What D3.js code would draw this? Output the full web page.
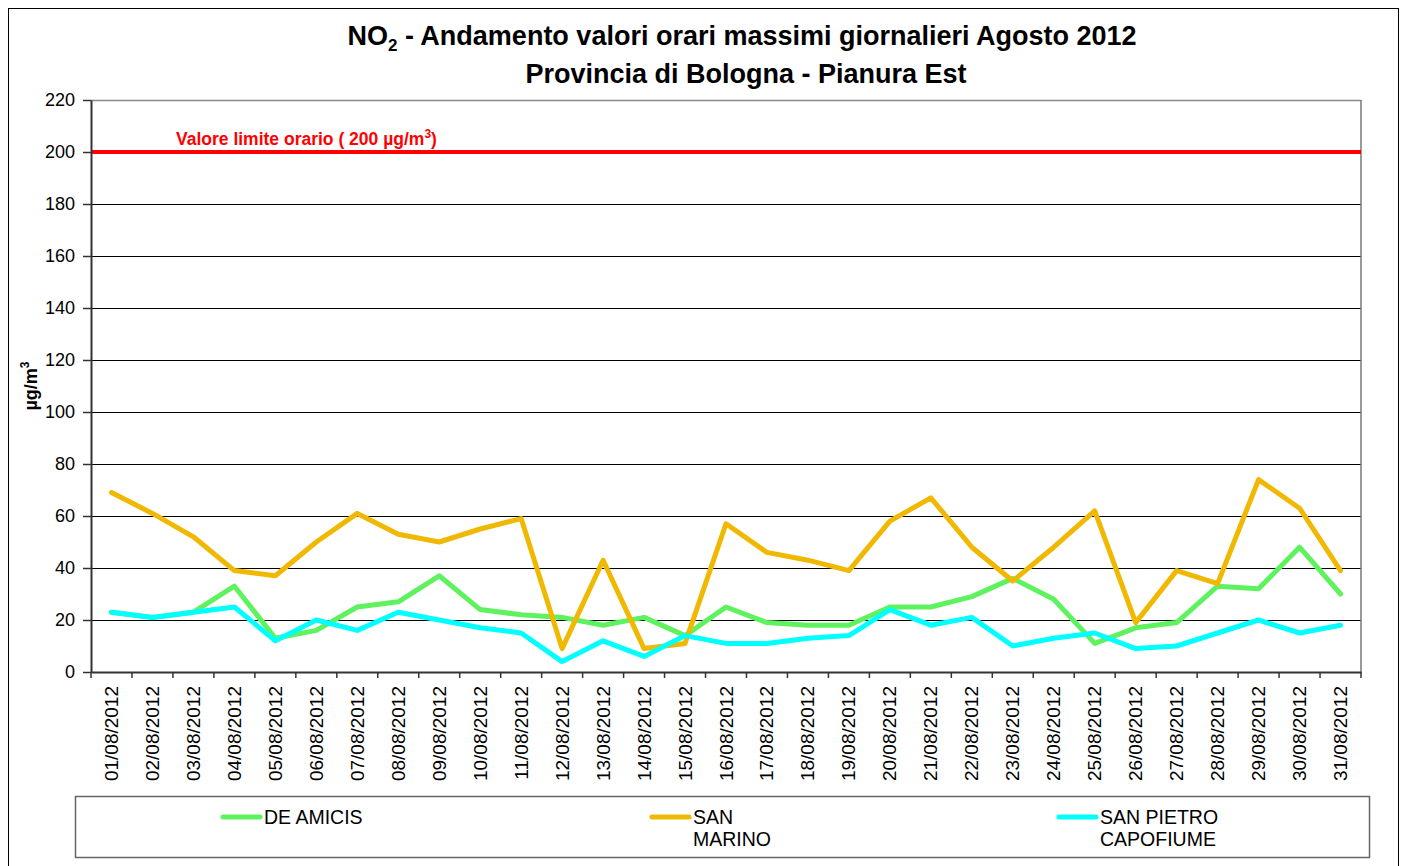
<!DOCTYPE html>
<html>
<head>
<meta charset="utf-8">
<script src="https://cdn.jsdelivr.net/npm/d3@7"></script>
<style>
  html, body { margin: 0; padding: 0; background: #fff; }
  svg { display: block; font-family: Arial, "Liberation Sans", sans-serif; }
</style>
</head>
<body>
<svg id="chart" width="1401" height="866"></svg>
<script>
const dates = ["01/08/2012","02/08/2012","03/08/2012","04/08/2012","05/08/2012","06/08/2012","07/08/2012","08/08/2012","09/08/2012","10/08/2012","11/08/2012","12/08/2012","13/08/2012","14/08/2012","15/08/2012","16/08/2012","17/08/2012","18/08/2012","19/08/2012","20/08/2012","21/08/2012","22/08/2012","23/08/2012","24/08/2012","25/08/2012","26/08/2012","27/08/2012","28/08/2012","29/08/2012","30/08/2012","31/08/2012"];
const deAmicis = [23,21,23,33,13,16,25,27,37,24,22,21,18,21,14,25,19,18,18,25,25,29,36,28,11,17,19,33,32,48,30];
const sanMarino = [69,61,52,39,37,50,61,53,50,55,59,9,43,9,11,57,46,43,39,58,67,48,35,48,62,19,39,34,74,63,39];
const sanPietro = [23,21,23,25,12,20,16,23,20,17,15,4,12,6,14,11,11,13,14,24,18,21,10,13,15,9,10,15,20,15,18];
const yTicks = [0,20,40,60,80,100,120,140,160,180,200,220];
const limitValue = 200;
const seriesNames = ["DE AMICIS", "SAN MARINO", "SAN PIETRO CAPOFIUME"];
const seriesColors = ["#5ef25e", "#f0b800", "#00ffff"];

const svg = d3.select("#chart");
const plot = { left: 91, right: 1361, top: 100, bottom: 672 };

// outer frame
svg.append("rect").attr("x", 8.5).attr("y", 8.5).attr("width", 1390).attr("height", 870)
  .attr("fill", "none").attr("stroke", "#000").attr("stroke-width", 1);

const x = d3.scaleBand().domain(dates).range([plot.left, plot.right]).padding(0);
const y = d3.scaleLinear().domain([0, 220]).range([plot.bottom, plot.top]);

// gridlines
svg.append("g").selectAll("line").data(yTicks.filter(t => t > 0 && t < 220 && t !== limitValue))
  .join("line")
  .attr("x1", plot.left).attr("x2", plot.right)
  .attr("y1", d => y(d) + 0.5).attr("y2", d => y(d) + 0.5)
  .attr("stroke", "#000").attr("stroke-width", 1);

// plot border top/right (grey)
svg.append("line").attr("x1", plot.left).attr("x2", plot.right)
  .attr("y1", y(220) + 0.5).attr("y2", y(220) + 0.5).attr("stroke", "#888").attr("stroke-width", 1.5);
svg.append("line").attr("x1", plot.right).attr("x2", plot.right)
  .attr("y1", plot.top).attr("y2", plot.bottom).attr("stroke", "#777").attr("stroke-width", 1.5);

// limit line
svg.append("line").attr("x1", plot.left).attr("x2", plot.right)
  .attr("y1", y(limitValue)).attr("y2", y(limitValue))
  .attr("stroke", "#ff0000").attr("stroke-width", 4);

const lim = svg.append("text").attr("x", 176).attr("y", 145)
  .attr("fill", "#ff0000").attr("font-weight", "bold").attr("font-size", 17.5);
lim.append("tspan").text("Valore limite orario ( 200 µg/m");
lim.append("tspan").attr("font-size", 12).attr("dy", -7).text("3");
lim.append("tspan").attr("dy", 7).text(")");

// y axis
const yAxis = d3.axisLeft(y).tickValues(yTicks).tickSize(8).tickSizeOuter(0);
const gy = svg.append("g").attr("transform", `translate(${plot.left},0)`).call(yAxis);
gy.select(".domain").attr("stroke", "#333").attr("stroke-width", 2);
gy.selectAll(".tick line").attr("stroke", "#333").attr("stroke-width", 1.5);
gy.selectAll(".tick text").attr("font-size", 18).attr("font-family", "Arial, 'Liberation Sans', sans-serif")
  .attr("fill", "#000").attr("x", -16);

// x axis
const xAxis = d3.axisBottom(x).tickSize(0).tickSizeOuter(0);
const gx = svg.append("g").attr("transform", `translate(0,${plot.bottom})`).call(xAxis);
gx.select(".domain").attr("stroke", "#333").attr("stroke-width", 2);
gx.selectAll(".tick text")
  .attr("font-size", 19).attr("font-family", "Arial, 'Liberation Sans', sans-serif").attr("fill", "#000")
  .attr("transform", "rotate(-90)")
  .attr("text-anchor", "end").attr("dominant-baseline", "central")
  .attr("x", -14).attr("y", 0).attr("dy", null);
// boundary ticks
const bounds = dates.map(d => x(d)).concat([plot.right]);
svg.append("g").selectAll("line").data(bounds).join("line")
  .attr("x1", d => d).attr("x2", d => d)
  .attr("y1", plot.bottom).attr("y2", plot.bottom + 6)
  .attr("stroke", "#333").attr("stroke-width", 1.5);

// series
const seriesData = [deAmicis, sanMarino, sanPietro];
const line = d3.line().x((d, i) => x(dates[i]) + x.bandwidth() / 2).y(d => y(d));
seriesData.forEach((s, k) => {
  svg.append("path").datum(s).attr("d", line)
    .attr("fill", "none").attr("stroke", seriesColors[k]).attr("stroke-width", 5)
    .attr("stroke-linejoin", "round").attr("stroke-linecap", "round");
});

// y label
svg.append("text").attr("transform", "translate(37,386) rotate(-90)")
  .attr("text-anchor", "middle").attr("font-weight", "bold").attr("font-size", 18)
  .call(t => {
    t.append("tspan").text("µg/m");
    t.append("tspan").attr("font-size", 12).attr("dy", -8).text("3");
  });

// title
const t1 = svg.append("text").attr("x", 742).attr("y", 45).attr("text-anchor", "middle")
  .attr("font-weight", "bold").attr("font-size", 27);
t1.append("tspan").text("NO");
t1.append("tspan").attr("font-size", 17).attr("dy", 6).text("2");
t1.append("tspan").attr("dy", -6).text(" - Andamento valori orari massimi giornalieri Agosto 2012");
svg.append("text").attr("x", 746).attr("y", 83).attr("text-anchor", "middle")
  .attr("font-weight", "bold").attr("font-size", 27).text("Provincia di Bologna - Pianura Est");

// legend
svg.append("rect").attr("x", 75.5).attr("y", 796.5).attr("width", 1294).attr("height", 61)
  .attr("fill", "none").attr("stroke", "#666").attr("stroke-width", 1.5);
const legendX = [221, 650, 1057];
const legendLines = [["DE AMICIS"], ["SAN", "MARINO"], ["SAN PIETRO", "CAPOFIUME"]];
legendLines.forEach((lines, k) => {
  svg.append("line").attr("x1", legendX[k] + 2).attr("x2", legendX[k] + 39)
    .attr("y1", 817).attr("y2", 817)
    .attr("stroke", seriesColors[k]).attr("stroke-width", 5).attr("stroke-linecap", "round");
  const tx = svg.append("text").attr("x", legendX[k] + 43).attr("y", 824).attr("font-size", 19.5);
  lines.forEach((ln, j) => tx.append("tspan").attr("x", legendX[k] + 43).attr("dy", j === 0 ? 0 : 22).text(ln));
});
</script>
</body>
</html>
